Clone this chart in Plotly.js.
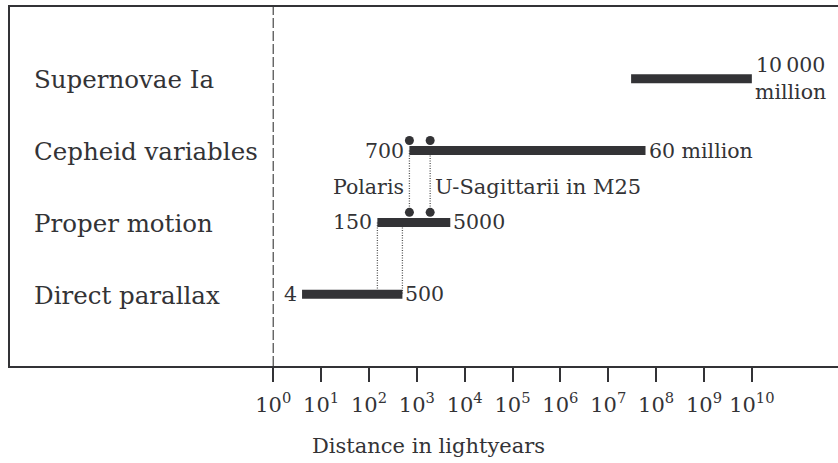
<!DOCTYPE html>
<html>
<head>
<meta charset="utf-8">
<script src="https://cdn.plot.ly/plotly-3.0.1.min.js"></script>
<style>html,body{margin:0;padding:0;background:#fff;}#chart{width:838px;height:463px;}</style>
</head>
<body>
<div id="chart"></div>
<script>
// ---- data ----
const methods   = ['Direct parallax', 'Proper motion', 'Cepheid variables', 'Supernovae Ia'];
const rowPos    = [1, 2, 3, 4];
const rangeMin  = [4, 150, 700, 3e7];
const rangeMax  = [500, 5000, 6e7, 1e10];
const minLabels = ['4', '150', '700', ''];
const maxLabels = ['500', '5000', '60 million', '10\u2009000<br>million'];
const starNames = ['Polaris', 'U-Sagittarii in M25'];
const starDist  = [700, 1900];
const linkDist  = [150, 500];          // overlap of proper motion and direct parallax
const tickVals  = [1, 1e1, 1e2, 1e3, 1e4, 1e5, 1e6, 1e7, 1e8, 1e9, 1e10];
const tickText  = ['10<sup>0</sup>','10<sup>1</sup>','10<sup>2</sup>','10<sup>3</sup>','10<sup>4</sup>',
                   '10<sup>5</sup>','10<sup>6</sup>','10<sup>7</sup>','10<sup>8</sup>','10<sup>9</sup>','10<sup>10</sup>'];
const xTitle = 'Distance in lightyears';

// ---- styles ----
const ink = '#333336';
const serif = 'DejaVu Serif';
const dotLift = 0.14;

const traces = [];
traces.push({x: [1, 1], y: [0, 5], mode: 'lines', line: {color: '#555', width: 1.3, dash: '10px,3px'}, hoverinfo: 'skip', showlegend: false});
starDist.forEach(d => {
  traces.push({x: [d, d], y: [rowPos[2], rowPos[1] + dotLift], mode: 'lines', line: {color: '#555', width: 1.3, dash: '1px,1.5px'}, hoverinfo: 'skip', showlegend: false});
});
linkDist.forEach(d => {
  traces.push({x: [d, d], y: [rowPos[1], rowPos[0]], mode: 'lines', line: {color: '#555', width: 1.3, dash: '1px,1.5px'}, hoverinfo: 'skip', showlegend: false});
});
methods.forEach((m, i) => {
  traces.push({x: [rangeMin[i], rangeMax[i]], y: [rowPos[i], rowPos[i]], mode: 'lines', line: {color: ink, width: 9}, hoverinfo: 'skip', showlegend: false});
});
traces.push({
  x: starDist.concat(starDist),
  y: starDist.map(() => rowPos[2] + dotLift).concat(starDist.map(() => rowPos[1] + dotLift)),
  mode: 'markers', marker: {color: ink, size: 9}, hoverinfo: 'skip', showlegend: false
});

const annotations = [];
methods.forEach((m, i) => {
  annotations.push({xref: 'paper', yref: 'y', x: 0.027, y: rowPos[i], text: m, showarrow: false,
    xanchor: 'left', yanchor: 'middle', yshift: -1, font: {family: serif, size: 24.5, color: ink}});
  if (minLabels[i]) annotations.push({xref: 'x', yref: 'y', x: Math.log10(rangeMin[i]), y: rowPos[i], text: minLabels[i],
    showarrow: false, xanchor: 'right', yanchor: 'middle', xshift: -3, font: {family: serif, size: 20.5, color: ink}});
  annotations.push({xref: 'x', yref: 'y', x: Math.log10(rangeMax[i]), y: rowPos[i], text: maxLabels[i],
    showarrow: false, xanchor: 'left', yanchor: 'middle', xshift: 1, align: 'center',
    font: {family: serif, size: 20.5, color: ink}});
});
annotations.push({xref: 'x', yref: 'y', x: Math.log10(starDist[0]), y: (rowPos[1] + rowPos[2]) / 2, text: starNames[0],
  showarrow: false, xanchor: 'right', yanchor: 'middle', xshift: -3, font: {family: serif, size: 20.5, color: ink}});
annotations.push({xref: 'x', yref: 'y', x: Math.log10(starDist[1]), y: (rowPos[1] + rowPos[2]) / 2, text: starNames[1],
  showarrow: false, xanchor: 'left', yanchor: 'middle', xshift: 3, font: {family: serif, size: 21, color: ink}});
annotations.push({xref: 'paper', yref: 'paper', x: 0.506, y: -0.223, text: xTitle, showarrow: false,
  xanchor: 'center', yanchor: 'middle', font: {family: serif, size: 21, color: ink}});

const layout = {
  width: 838, height: 463,
  margin: {l: 10, r: 0, t: 7, b: 97},
  paper_bgcolor: '#fff', plot_bgcolor: '#fff',
  font: {family: serif, size: 20, color: ink},
  showlegend: false,
  xaxis: {type: 'log', range: [-5.5, 11.8], showgrid: false, zeroline: false,
    showline: true, mirror: true, linecolor: ink, linewidth: 2,
    ticks: 'outside', ticklen: 14, tickwidth: 2, tickcolor: ink,
    tickmode: 'array', tickvals: tickVals, ticktext: tickText, ticklabelstandoff: 5,
    tickfont: {family: serif, size: 21, color: ink}},
  yaxis: {range: [0, 5], showgrid: false, zeroline: false, showticklabels: false, ticks: '',
    showline: true, linecolor: ink, linewidth: 2},
  annotations: annotations
};
Plotly.newPlot('chart', traces, layout, {displayModeBar: false, staticPlot: true});
</script>
</body>
</html>
